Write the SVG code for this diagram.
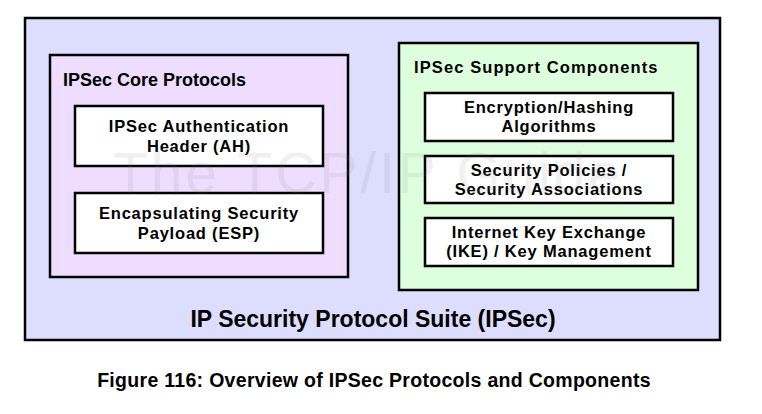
<svg xmlns="http://www.w3.org/2000/svg" width="762" height="414" viewBox="0 0 762 414">
<style>
.panel{stroke:#000;stroke-width:2.5}
.box{fill:#fff;stroke:#000;stroke-width:2.5}
.t{font-family:"Liberation Sans",Arial,sans-serif;font-weight:bold;fill:#000}
.c{text-anchor:middle}
.b{font-size:16.5px;letter-spacing:0.8px}
</style>
<rect width="762" height="414" fill="#fff"/>
<g id="suite">
<rect class="panel" x="25" y="18" width="695" height="322" fill="#DDDDFF"/>
<text class="t c" x="373" y="327" font-size="23">IP Security Protocol Suite (IPSec)</text>
</g>
<g id="core">
<rect class="panel" x="50" y="55" width="298" height="222" fill="#EEDDFF"/>
<text class="t" x="63" y="86" font-size="18">IPSec Core Protocols</text>
</g>
<g id="ah">
<rect class="box" x="75" y="106" width="248" height="60"/>
<text class="t c b" x="199" y="132">IPSec Authentication</text>
<text class="t c b" x="199" y="152">Header (AH)</text>
</g>
<g id="esp">
<rect class="box" x="75" y="193" width="248" height="60"/>
<text class="t c b" x="199" y="219">Encapsulating Security</text>
<text class="t c b" x="199" y="239">Payload (ESP)</text>
</g>
<g id="support">
<rect class="panel" x="399" y="43" width="299" height="247" fill="#DDFFDD"/>
<text class="t" x="414" y="73" font-size="16.5" letter-spacing="1.1">IPSec Support Components</text>
</g>
<g id="crypto">
<rect class="box" x="425" y="93" width="248" height="48"/>
<text class="t c b" x="549" y="113">Encryption/Hashing</text>
<text class="t c b" x="549" y="132">Algorithms</text>
</g>
<g id="sa">
<rect class="box" x="425" y="156" width="248" height="47"/>
<text class="t c b" x="549" y="176">Security Policies /</text>
<text class="t c b" x="549" y="195">Security Associations</text>
</g>
<g id="ike">
<rect class="box" x="425" y="218" width="248" height="48"/>
<text class="t c b" x="549" y="238">Internet Key Exchange</text>
<text class="t c b" x="549" y="257">(IKE) / Key Management</text>
</g>
<g id="connectors"></g>
<text x="113" y="193" font-family="Liberation Sans,Arial,sans-serif" font-size="57" fill="#808080" fill-opacity="0.12" textLength="507" lengthAdjust="spacing">The TCP/IP Guide</text>
<text class="t c" x="374" y="387" font-size="19.5" letter-spacing="0.3">Figure 116: Overview of IPSec Protocols and Components</text>
</svg>
